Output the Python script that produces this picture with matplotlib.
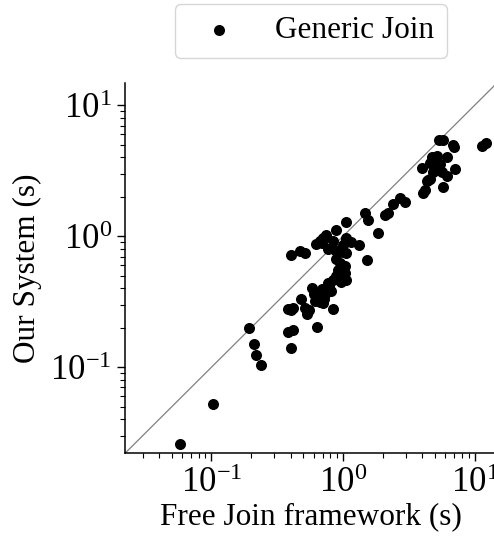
import numpy as np
import matplotlib
matplotlib.use("Agg")
import matplotlib.pyplot as plt

plt.rcParams['font.family'] = ['Liberation Serif', 'DejaVu Serif']
plt.rcParams['mathtext.fontset'] = 'stix'
plt.rcParams['font.size'] = 22.5

# runtimes in seconds
free_join = [0.058, 0.103, 0.194, 0.212, 0.218, 0.238,
             0.40, 0.38, 0.42, 0.38, 0.404, 0.42, 0.40, 0.467, 0.51,
             0.476, 0.51, 0.535, 0.55, 0.584, 0.637, 0.608, 0.633, 0.664, 0.695,
             0.626, 0.664, 0.703, 0.737, 0.695, 0.768, 0.839, 0.889, 0.864, 0.879,
             0.839, 0.815, 0.84, 0.725, 0.768, 0.879, 0.916, 0.971, 1.03, 1.06,
             1.03, 1.0, 1.06, 1.0, 1.06, 1.05, 1.14, 1.317, 1.06, 1.463,
             1.55, 1.51, 1.85, 2.08, 2.21, 2.41, 2.71, 2.95, 4.08, 3.97,
             4.32, 4.58, 4.72, 5.16, 4.58, 4.86, 5.16, 5.47, 5.63, 5.40,
             5.73, 6.15, 6.15, 5.74, 6.9, 6.95, 7.12, 4.86, 11.3, 12.3,
             0.66, 0.72, 0.78, 0.93, 0.95, 4.2, 4.46, 0.60, 0.70]
our_system = [0.026, 0.052, 0.198, 0.151, 0.123, 0.104,
              0.141, 0.187, 0.192, 0.277, 0.274, 0.282, 0.72, 0.776, 0.75,
              0.332, 0.285, 0.255, 0.274, 0.40, 0.204, 0.32, 0.341, 0.317, 0.398,
              0.874, 0.912, 0.97, 1.02, 0.884, 0.796, 0.912, 1.117, 0.782, 0.67,
              0.464, 0.384, 0.279, 0.363, 0.436, 0.493, 0.557, 0.45, 0.524, 0.464,
              0.593, 0.758, 0.749, 0.857, 0.94, 0.97, 0.91, 0.86, 1.29, 1.5,
              1.33, 0.66, 1.05, 1.45, 1.5, 1.76, 1.95, 1.84, 2.13, 3.3,
              2.62, 2.76, 4.05, 4.11, 3.64, 3.12, 3.36, 3.57, 3.12, 5.43,
              5.43, 4.0, 2.88, 2.37, 5.0, 4.83, 3.24, 3.53, 4.9, 5.2,
              0.35, 0.33, 0.42, 0.52, 0.62, 2.26, 2.69, 0.36, 0.31]

lims = [0.022, 14.8]

fig = plt.figure(figsize=(4.94, 5.48), dpi=100)
ax = fig.add_axes([0.253, 0.1728, 0.753, 0.6757])

ax.plot(lims, lims, color='grey', lw=0.9, zorder=1)
ax.scatter(free_join, our_system, s=48, color='black', zorder=2,
           label='Generic Join')

ax.set_xscale('log')
ax.set_yscale('log')
ax.set_xlim(lims)
ax.set_ylim(lims)

ax.spines['top'].set_visible(False)
ax.spines['right'].set_visible(False)
ax.spines['left'].set_linewidth(1.1)
ax.spines['bottom'].set_linewidth(1.1)
ax.tick_params(which='major', length=6, width=1.0, labelsize=25)
ax.tick_params(which='minor', length=3.5, width=0.8)

ax.set_xlabel('Free Join framework (s)', labelpad=2)
ax.set_ylabel('Our System (s)', labelpad=6)

ax.legend(loc='lower center', bbox_to_anchor=(0.5, 1.068), borderaxespad=0)

fig.savefig('out.png', dpi=100)
